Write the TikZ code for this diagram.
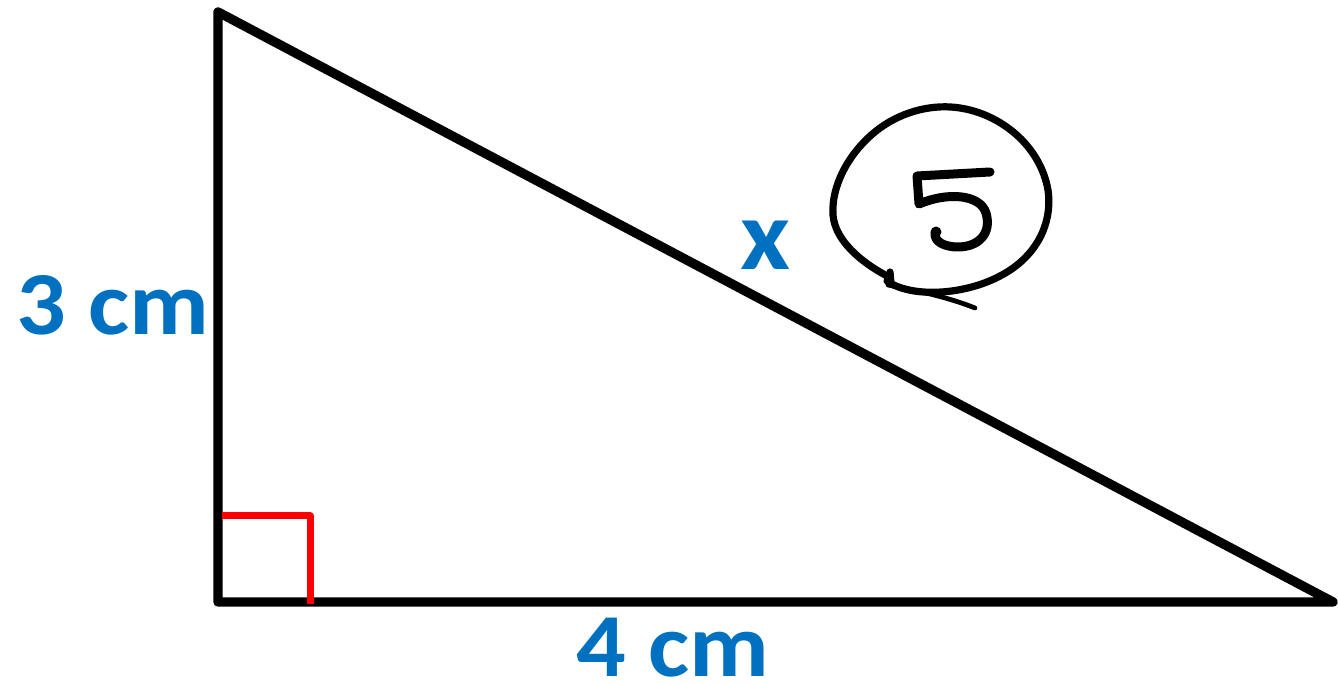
\documentclass[tikz,border=0pt]{standalone}
\usepackage{fontspec}
\setmainfont{Carlito}
\newfontfamily\lblfont{Carlito}[FakeStretch=1.09]
\definecolor{labelblue}{RGB}{0,112,192}
\definecolor{markred}{RGB}{255,0,0}
\begin{document}
\begin{tikzpicture}[x=0.5pt,y=-0.5pt,
  side/.style={line width=4.7pt,line join=round,black},
  rightmark/.style={line width=3.5pt,line join=round,markred},
  lbl/.style={inner sep=0pt,anchor=base west,text depth=0pt,text=labelblue,font=\lblfont\fontsize{45}{54}\selectfont\bfseries},
  hand/.style={line width=3.6pt,line cap=round,line join=round,black},
  digit/.style={line width=4.5pt,line cap=round,line join=round,black}]
\useasboundingbox (0,0) rectangle (1338,683);
\coordinate (A) at (218,12);
\coordinate (B) at (218,602);
\coordinate (C) at (1333,602);
\draw[side] (A) -- (B) -- (C) -- cycle;
\coordinate (R1) at (222,516);
\coordinate (R2) at (310,516);
\coordinate (R3) at (310,604);
\draw[rightmark] (R1) -- (R2) -- (R3);
\node[lbl] (three) at (16,335) {3 cm};
\node[lbl] (four) at (576,676) {4 cm};
\node[lbl,font=\lblfont\fontsize{50}{60}\selectfont\bfseries] (xlbl) at (740,270) {x};
% handwritten circle
\draw[hand] (890,272) -- (891,284);
\draw[hand] (889,277) .. controls (860,262) and (835,240) .. (833,215)
  .. controls (831,185) and (850,150) .. (880,128)
  .. controls (905,110) and (935,104) .. (960,108)
  .. controls (1000,114) and (1040,145) .. (1048,190)
  .. controls (1053,225) and (1035,258) .. (1000,276)
  .. controls (970,292) and (930,296) .. (905,289)
  .. controls (897,287) and (891,284) .. (887,281);
\draw[line width=2.4pt,line cap=round,black] (888,285) .. controls (920,291) and (950,298) .. (975,308);
% digit 5
\draw[digit] (990,172) -- (917,176) -- (919,204)
  .. controls (947,192) and (980,194) .. (986,213)
  .. controls (992,234) and (978,247) .. (958,247)
  .. controls (945,247) and (934,242) .. (935,233);
\fill[black] (936,232) circle (5.5);
\end{tikzpicture}
\end{document}
